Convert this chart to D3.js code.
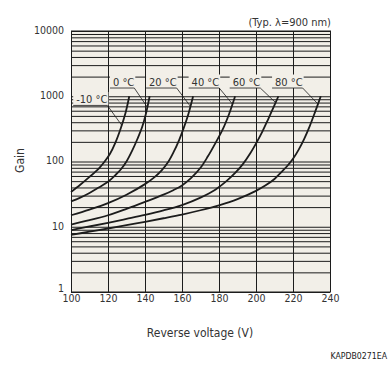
<!DOCTYPE html>
<html>
<head>
<meta charset="utf-8">
<script src="https://cdn.jsdelivr.net/npm/d3@7"></script>
<style>
body { margin: 0; background: #fff; }
svg { display: block; font-family: "DejaVu Sans Condensed", "DejaVu Sans", sans-serif; }
</style>
</head>
<body>
<div id="chart"></div>
<script>
// temperature of each curve
const temps = ["-10 °C", "0 °C", "20 °C", "40 °C", "60 °C", "80 °C"]

// gain vs reverse voltage: [voltage (V), gain]
const gainM10 = [[100, 34], [105, 44], [110, 58], [115, 78], [118, 98], [121, 130], [124, 195], [127, 330], [129.5, 560], [131.5, 1000]]
const gain0 = [[100, 24.5], [105, 28], [110, 33], [115, 40], [120, 49], [124, 62], [127, 76], [130, 100], [133, 145], [136, 225], [138.5, 340], [140.5, 540], [142.5, 1000]]
const gain20 = [[100, 15], [110, 18.3], [120, 23], [130, 31], [140, 45], [145, 57], [149, 73], [152.5, 98], [155.5, 140], [158.5, 215], [161, 330], [163.5, 540], [166, 1000]]
const gain40 = [[100, 10.8], [110, 12.6], [120, 15], [130, 18.8], [140, 24], [150, 31], [155, 36], [160, 43], [165, 56], [170, 80], [174, 120], [178, 190], [182, 310], [185.5, 540], [188.7, 1000]]
const gain60 = [[100, 8.9], [110, 10.1], [120, 11.5], [130, 13.2], [140, 15.2], [150, 17.8], [160, 21.5], [170, 28], [178, 37], [184, 50], [189, 68], [193, 92], [197, 135], [200.5, 200], [203.5, 290], [206.5, 440], [209.5, 680], [212.1, 1000]]
const gain80 = [[100, 7.5], [110, 8.4], [120, 9.4], [130, 10.6], [140, 11.9], [150, 13.5], [160, 15.4], [170, 17.9], [180, 21.3], [190, 26.5], [200, 35.5], [205, 42.7], [210, 54], [214, 70], [217, 86], [220, 110], [223, 151], [226, 221], [229, 346], [232, 580], [235, 1000]]

const xTicks = [100, 120, 140, 160, 180, 200, 220, 240]
const yTicks = [1, 10, 100, 1000, 10000]

const curves = [gainM10, gain0, gain20, gain40, gain60, gain80]

// where each temperature tag sits (voltage at text start, gain at baseline)
// and the gain where its leader touches the curve
const tagLayout = {
    volt: [102.8, 122.7, 142.2, 165.2, 187.4, 210.3],
    gain: [790, 1460, 1460, 1460, 1460, 1460],
    target: [360, 680, 700, 760, 800, 760]
}

const svgWidth = 390
const svgHeight = 375
const margin = { top: 31, right: 60, bottom: 83, left: 71 }
const chartWidth = svgWidth - margin.left - margin.right
const chartHeight = svgHeight - margin.top - margin.bottom

const bg = "#f2efe8"
const ink = "#1c1c1c"
const textColor = "#333"

const svg = d3.select("#chart")
    .append("svg")
    .attr("width", svgWidth)
    .attr("height", svgHeight)

const chartGroup = svg.append("g")
    .attr("transform", `translate(${margin.left}, ${margin.top})`)

const xScale = d3.scaleLinear().domain([100, 240]).range([0, chartWidth])
const yScale = d3.scaleLog().domain([1, 10000]).range([chartHeight, 0])

chartGroup.append("rect")
    .attr("width", chartWidth)
    .attr("height", chartHeight)
    .attr("fill", bg)

// log grid: 1..9 in every decade
const minorY = d3.range(0, 4).flatMap(e => d3.range(1, 10).map(k => k * Math.pow(10, e))).concat([10000])

const gridY = chartGroup.append("g")
    .call(d3.axisLeft(yScale).tickValues(minorY).tickSize(-chartWidth).tickFormat(""))
gridY.select(".domain").remove()
gridY.selectAll("line").attr("stroke", ink)

const gridX = chartGroup.append("g")
    .attr("transform", `translate(0, ${chartHeight})`)
    .call(d3.axisBottom(xScale).tickValues(xTicks).tickSize(-chartHeight).tickFormat(""))
gridX.select(".domain").remove()
gridX.selectAll("line").attr("stroke", ink)

// curves
const line = d3.line()
    .x(d => xScale(d[0]))
    .y(d => yScale(d[1]))
    .curve(d3.curveCatmullRom.alpha(0.5))

chartGroup.append("g")
    .selectAll("path")
    .data(curves)
    .enter()
    .append("path")
    .attr("d", line)
    .attr("fill", "none")
    .attr("stroke", ink)
    .attr("stroke-width", 1.8)

// point on a curve at a given gain (interpolated in log space)
function pointAtGain(curve, g) {
    for (let i = 1; i < curve.length; i++) {
        const a = curve[i - 1], b = curve[i]
        if (g >= a[1] && g <= b[1]) {
            const t = (Math.log(g) - Math.log(a[1])) / (Math.log(b[1]) - Math.log(a[1]))
            return [xScale(a[0] + t * (b[0] - a[0])), yScale(g)]
        }
    }
    const last = curve[curve.length - 1]
    return [xScale(last[0]), yScale(last[1])]
}

// temperature tags with underline and leader
temps.forEach((name, i) => {
    const tx = xScale(tagLayout.volt[i])
    const ty = yScale(tagLayout.gain[i])
    const tag = chartGroup.append("g")

    const label = tag.append("text")
        .attr("x", tx)
        .attr("y", ty)
        .attr("font-size", "11px")
        .attr("fill", textColor)
        .text(name)
    const w = label.node().getComputedTextLength()

    tag.insert("rect", "text")
        .attr("x", tx - 3)
        .attr("y", ty - 11)
        .attr("width", w + 4)
        .attr("height", 13.5)
        .attr("fill", bg)

    const uy = ty + 2.5
    tag.append("line")
        .attr("x1", tx - 3).attr("x2", tx + w)
        .attr("y1", uy).attr("y2", uy)
        .attr("stroke", ink).attr("stroke-width", 0.8)

    const p = pointAtGain(curves[i], tagLayout.target[i])
    tag.append("line")
        .attr("x1", tx + w).attr("y1", uy)
        .attr("x2", p[0]).attr("y2", p[1])
        .attr("stroke", ink).attr("stroke-width", 0.8)
})

// frame
chartGroup.append("rect")
    .attr("x", 0.5).attr("y", 0)
    .attr("width", chartWidth).attr("height", chartHeight)
    .attr("fill", "none")
    .attr("stroke", ink)

// axes labels
const leftAxis = chartGroup.append("g")
    .call(d3.axisLeft(yScale).tickValues(yTicks).tickFormat(d3.format("d")).tickSize(0).tickPadding(7))
leftAxis.attr("font-family", null)
leftAxis.select(".domain").remove()
leftAxis.selectAll("text")
    .attr("font-size", "10.5px")
    .attr("fill", textColor)
    .attr("dy", d => d === 1 ? "-0.05em" : "0.22em")

const bottomAxis = chartGroup.append("g")
    .attr("transform", `translate(0, ${chartHeight})`)
    .call(d3.axisBottom(xScale).tickValues(xTicks).tickSize(0).tickPadding(3))
bottomAxis.attr("font-family", null)
bottomAxis.select(".domain").remove()
bottomAxis.selectAll("text")
    .attr("font-size", "10.5px")
    .attr("fill", textColor)

svg.append("text")
    .attr("x", 331).attr("y", 25.5)
    .attr("text-anchor", "end")
    .attr("font-size", "11px")
    .attr("fill", textColor)
    .text("(Typ. λ=900 nm)")

svg.append("text")
    .attr("x", 200).attr("y", 336.5)
    .attr("text-anchor", "middle")
    .attr("font-size", "12px")
    .attr("fill", textColor)
    .text("Reverse voltage (V)")

svg.append("text")
    .attr("transform", "translate(24, 160.5) rotate(-90)")
    .attr("text-anchor", "middle")
    .attr("font-size", "12px")
    .attr("fill", textColor)
    .text("Gain")

svg.append("text")
    .attr("x", 387).attr("y", 359)
    .attr("text-anchor", "end")
    .attr("font-size", "8.7px")
    .attr("fill", "#222")
    .text("KAPDB0271EA")
</script>
</body>
</html>
